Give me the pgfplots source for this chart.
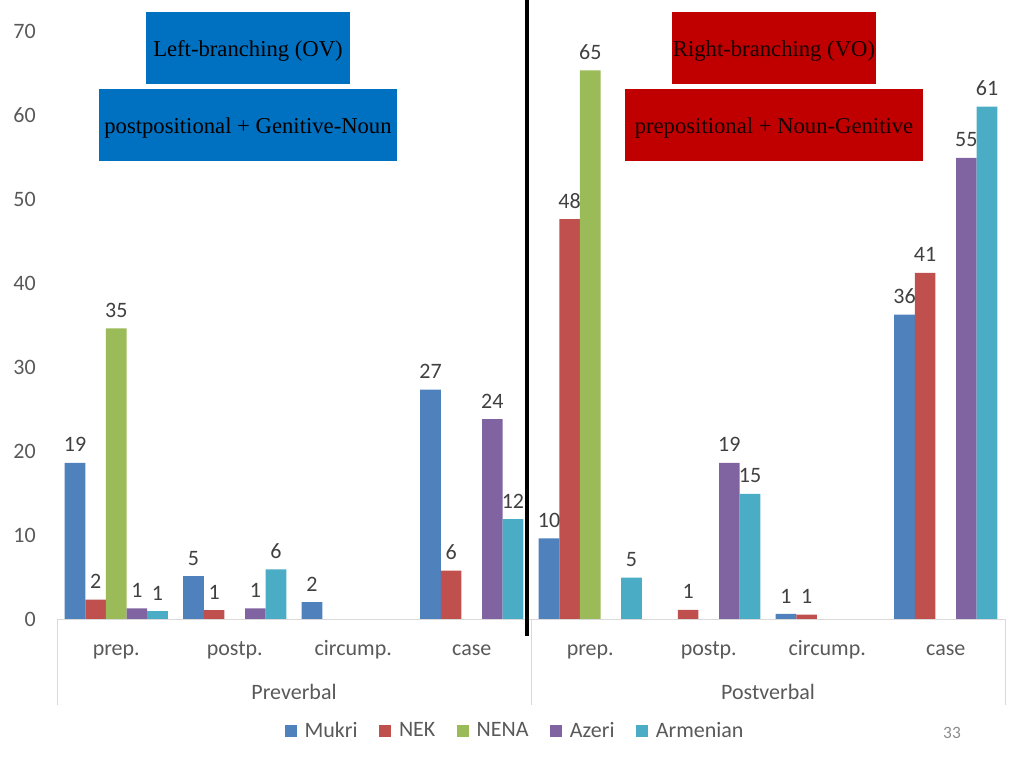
\documentclass[border=0pt]{standalone}
\usepackage{pgfplots}
\pgfplotsset{compat=1.18}
\usepackage{fontspec}
\setmainfont{Carlito}
\newfontfamily\timesfont{Liberation Serif}
\definecolor{cMukri}{HTML}{4F81BD}
\definecolor{cNEK}{HTML}{C0504D}
\definecolor{cNENA}{HTML}{9BBB59}
\definecolor{cAzeri}{HTML}{8064A2}
\definecolor{cArm}{HTML}{4BACC6}
\definecolor{boxblue}{HTML}{0070C0}
\definecolor{boxred}{HTML}{C00000}
\definecolor{ticktext}{HTML}{595959}
\definecolor{labtext}{HTML}{404040}
\definecolor{framegray}{HTML}{D9D9D9}
\definecolor{pagegray}{HTML}{8C8C8C}

\begin{document}
\begin{tikzpicture}
\useasboundingbox (0,0) rectangle (768pt,576pt);
\begin{axis}[
  at={(42.75pt,111.75pt)}, anchor=south west,
  scale only axis, width=711pt, height=441pt,
  ybar, bar width=0.174,
  xmin=-0.5, xmax=7.5, ymin=0, ymax=70,
  xtick={0,...,7},
  xticklabels={prep.,postp.,circump.,case,prep.,postp.,circump.,case},
  ytick={0,10,...,70},
  axis line style={draw=none},
  major tick length=0pt,
  tick label style={font=\fontsize{16.5}{19}\selectfont, text=ticktext},
  xticklabel style={anchor=base, inner sep=0pt, yshift=-27pt},
  yticklabel style={anchor=east, inner sep=0pt, xshift=-15.75pt},
  /pgf/number format/assume math mode=true,
  point meta=y,
  nodes near coords={\pgfmathprintnumber[fixed,precision=0]{\pgfplotspointmeta}},
  nodes near coords style={font=\fontsize{16.5}{19}\selectfont, text=labtext, anchor=south, inner sep=0pt, yshift=8pt},
  legend columns=5,
  legend style={at={(0.4835,-0.19)}, anchor=center, draw=none, fill=none,
    font=\fontsize{16.5}{19}\selectfont, text=ticktext,
    /tikz/every odd column/.append style={column sep=4pt},
    /tikz/every even column/.append style={column sep=14pt}},
  legend image code/.code={\fill[#1] (0pt,-4.5pt) rectangle (9pt,4.5pt);},
  clip=false,
]
\addplot[fill=cMukri, draw=none, bar shift=-0.348] coordinates
  {(0,18.6) (1,5.1) (2,2.0) (3,27.3) (4,9.6) (6,0.6) (7,36.25)};
\addlegendentry{Mukri}
\addplot[fill=cNEK, draw=none, bar shift=-0.174] coordinates
  {(0,2.3) (1,1.07) (3,5.75) (4,47.6) (5,1.1) (6,0.52) (7,41.2)};
\addlegendentry{NEK}
\addplot[fill=cNENA, draw=none, bar shift=0] coordinates
  {(0,34.6) (4,65.3)};
\addlegendentry{NENA}
\addplot[fill=cAzeri, draw=none, bar shift=0.174] coordinates
  {(0,1.27) (1,1.27) (3,23.8) (5,18.6) (7,54.9)};
\addlegendentry{Azeri}
\addplot[fill=cArm, draw=none, bar shift=0.348] coordinates
  {(0,0.95) (1,5.9) (3,11.9) (4,4.94) (5,14.9) (7,61.0)};
\addlegendentry{Armenian}
\end{axis}
\begin{scope}[yshift=576pt, x=0.75pt, y=-0.75pt]
  % category frame
  \draw[framegray, line width=0.75pt] (57,619) -- (1005,619);
  \draw[framegray, line width=0.75pt] (57,619) -- (57,705);
  \draw[framegray, line width=0.75pt] (531,619) -- (531,705);
  \draw[framegray, line width=0.75pt] (1005,619) -- (1005,705);
  \node[anchor=base, inner sep=0pt, text=ticktext, font=\fontsize{16.5}{19}\selectfont] at (294,699) {Preverbal};
  \node[anchor=base, inner sep=0pt, text=ticktext, font=\fontsize{16.5}{19}\selectfont] at (768,699) {Postverbal};
  % divider
  \draw[black, line width=3pt] (527,0) -- (527,636);
  % boxes
  \fill[boxblue] (146,12) rectangle (350,84);
  \node[font=\timesfont\fontsize{17}{20}\selectfont, text=black] at (248,51) {Left-branching (OV)};
  \fill[boxblue] (99,89) rectangle (397,161);
  \node[font=\timesfont\fontsize{17}{20}\selectfont, text=black] at (248,128) {postpositional + Genitive-Noun};
  \fill[boxred] (672,12) rectangle (876,84);
  \node[font=\timesfont\fontsize{17}{20}\selectfont, text=black!90!red] at (774,51) {Right-branching (VO)};
  \fill[boxred] (625,89) rectangle (923,161);
  \node[font=\timesfont\fontsize{17}{20}\selectfont, text=black!90!red] at (774,128) {prepositional + Noun-Genitive};
  % page number
  \node[font=\fontsize{13}{15}\selectfont, text=pagegray] at (952,733) {33};
\end{scope}
\end{tikzpicture}
\end{document}
